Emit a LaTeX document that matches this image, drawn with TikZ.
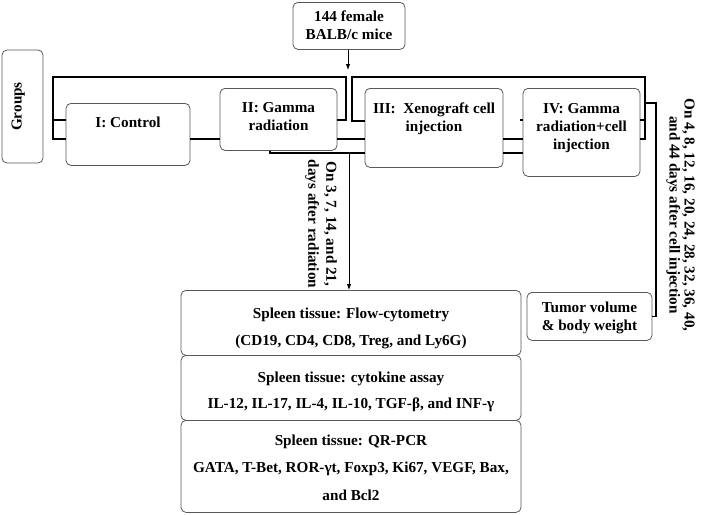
\documentclass[tikz,border=0pt]{standalone}
\usepackage{fontspec}
\setmainfont{Liberation Serif}
\usepackage{tikz}
\usetikzlibrary{arrows.meta}

\begin{document}
\begin{tikzpicture}[x=1pt, y=-1pt,
    font=\bfseries\fontsize{15.2}{18}\selectfont,
    box/.style={draw=black!65, line width=0.8pt, rounded corners=5pt, align=center, anchor=north, inner xsep=0pt, inner ysep=5pt},
    link/.style={line width=1.2pt},
    arr/.style={line width=0.9pt, -{Latex[length=6pt, width=4.5pt]}}]
    \useasboundingbox (0,0) rectangle (708,514);

    % Draw the starting box and the groups
    \node[box, minimum width=112, text height=32pt, text depth=5pt] (mice) at (349,2) {144 female\\BALB/c mice};
    \node[draw=black!65, line width=0.8pt, rounded corners=5pt, rotate=90, minimum width=113, minimum height=41, text height=10pt, text depth=12pt] (groups) at (22.5,106.5) {Groups};
    \node[box, minimum width=124, text height=19pt, text depth=33pt] (I) at (128,103) {I: Control};
    \node[box, minimum width=117, text height=37pt, text depth=15pt] (II) at (278.5,88) {II: Gamma\\radiation};
    \node[box, minimum width=138, text height=38pt, text depth=31pt] (III) at (434,88) {III:~ Xenograft cell\\injection};
    \node[box, minimum width=117, text height=56pt, text depth=22pt] (IV) at (581.5,88) {IV: Gamma\\radiation+cell\\injection};

    % Draw the measurements
    \node[box, minimum width=340, text height=50pt, text depth=5pt, font=\bfseries\fontsize{15.2}{27}\selectfont] (flow) at (351,290) {Spleen tissue: Flow-cytometry\\(CD19, CD4, CD8, Treg, and Ly6G)};
    \node[box, minimum width=340, text height=48pt, text depth=7pt, font=\bfseries\fontsize{15.2}{26}\selectfont] (cyto) at (351,355) {Spleen tissue: cytokine assay\\IL-12, IL-17, IL-4, IL-10, TGF-β, and INF-γ};
    \node[box, minimum width=340, text height=75pt, text depth=7pt, font=\bfseries\fontsize{15.2}{27.5}\selectfont] (pcr) at (351,420) {Spleen tissue: QR-PCR\\GATA, T-Bet, ROR-γt, Foxp3, Ki67, VEGF, Bax,\\and Bcl2};
    \node[box, minimum width=125, text height=33pt, text depth=5pt] (tumor) at (589.5,292) {Tumor volume\\\& body weight};

    % Time points
    \node[rotate=-90, align=center] (days1) at (321,224) {On 3, 7, 14, and 21,\\days after radiation};
    \node[rotate=-90, align=center, font=\bfseries\fontsize{15.2}{15}\selectfont] (days2) at (680.5,215) {On 4, 8, 12, 16, 20, 24, 28, 32, 36, 40,\\and 44 days after cell injection};

    % Define coordinates for the brackets
    \coordinate (b1) at (53,77);
    \coordinate (b2) at (346,77);
    \coordinate (b3) at (352,77);
    \coordinate (b4) at (645,77);
    \coordinate (b5) at (656,103);
    \coordinate (a1) at (348,70);
    \coordinate (a2) at (349,153);

    % Connect the groups
    \draw[link] (I.west |- 0,139) -| (b1) -- (b2) |- (II.east |- 0,120);
    \draw[link] (b1 |- 0,120) -- (I.west |- 0,120);
    \draw[link] (III.west |- 0,121) -| (b3) -- (b4) |- (IV.east |- 0,139);
    \draw[link] (b4 |- 0,120) -- (IV.east |- 0,120);
    \foreach \a/\b in {I/II, II/III, III/IV}
        \draw[link] (\a.east |- 0,139) -- (\b.west |- 0,139);
    \draw[link] (II.south -| 270,0) |- (III.west |- 0,153);
    \draw[link] (III.east |- 0,153) -- (IV.west |- 0,153);
    \draw[link] (520,120) -- (IV.west |- 0,120);
    \draw[link] (b4 |- b5) -- (b5) |- (tumor.east);

    % Arrows
    \draw[arr] (mice.south -| a1) -- (a1);
    \draw[arr] (a2) -- (a2 |- flow.north);

\end{tikzpicture}
\end{document}
